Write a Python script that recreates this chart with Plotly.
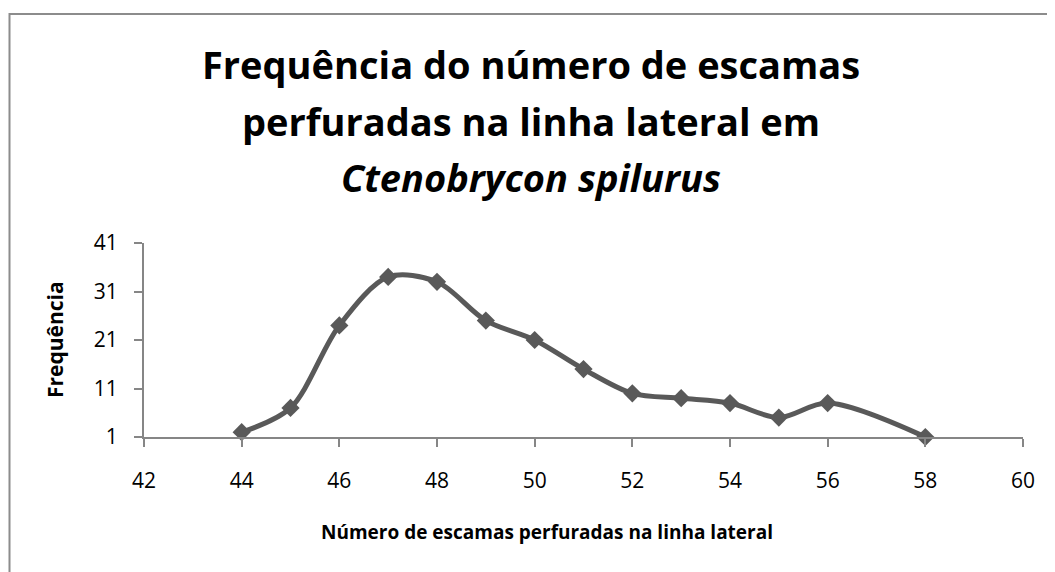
import plotly.graph_objects as go

escamas = [44, 45, 46, 47, 48, 49, 50, 51, 52, 53, 54, 55, 56, 58]
frequencia = [2, 7, 24, 34, 33, 25, 21, 15, 10, 9, 8, 5, 8, 1]
x_ticks = [42, 44, 46, 48, 50, 52, 54, 56, 58, 60]
y_ticks = [1, 11, 21, 31, 41]

title_lines = [
    "<b>Frequência do número de escamas</b>",
    "<b>perfuradas na linha lateral em</b>",
    "<b><i>Ctenobrycon spilurus</i></b>",
]
x_title = "<b>Número de escamas perfuradas na linha lateral</b>"
y_title = "<b>Frequência</b>"

FONT = "Open Sans"
W, H = 1055, 572
OFF = 8  # page body margin
# desired plot area in page pixels
PL, PR, PT, PB = 144, 1023, 243, 437
L = PL - OFF
T = PT - OFF
R = W - (PR - OFF)
B = H - (PB - OFF)
pw, ph = PR - PL, PB - PT

def px_x(p):
    return (p - PL) / pw

def px_y(p):
    return (PB - p) / ph

fig = go.Figure()
fig.add_trace(go.Scatter(
    x=escamas, y=frequencia, mode="lines+markers",
    line=dict(color="#595959", width=5, shape="spline", smoothing=0.9),
    marker=dict(symbol="diamond", size=14, color="#595959"),
    cliponaxis=False, showlegend=False,
))

annotations = []
for txt, py in zip(title_lines, [64, 121, 177]):
    annotations.append(dict(text=txt, x=px_x(531), y=px_y(py), xref="paper", yref="paper",
                            showarrow=False, xanchor="center", yanchor="middle",
                            font=dict(family=FONT, size=38, color="#000000")))
annotations.append(dict(text=x_title, x=px_x(547), y=px_y(532), xref="paper", yref="paper",
                        showarrow=False, xanchor="center", yanchor="middle",
                        font=dict(family=FONT, size=19, color="#000000")))
annotations.append(dict(text=y_title, x=px_x(55), y=px_y(340), xref="paper", yref="paper",
                        showarrow=False, xanchor="center", yanchor="middle", textangle=-90,
                        font=dict(family=FONT, size=21, color="#000000")))

fig.update_layout(
    width=W, height=H,
    margin=dict(l=L, r=R, t=T, b=B),
    paper_bgcolor="white", plot_bgcolor="white",
    annotations=annotations,
    shapes=[dict(type="rect", xref="paper", yref="paper",
                 x0=px_x(9.5), x1=px_x(1080), y0=px_y(14), y1=px_y(600),
                 line=dict(color="#8c8c8c", width=2), fillcolor="rgba(0,0,0,0)", layer="below")],
    xaxis=dict(range=[42, 60], tickvals=x_ticks, ticks="outside", ticklen=8, tickwidth=1.5,
               tickcolor="#868686", showline=True, linecolor="#868686", linewidth=2,
               showgrid=False, zeroline=False, fixedrange=True, ticklabelstandoff=16,
               tickfont=dict(family=FONT, size=21, color="#000000")),
    yaxis=dict(range=[1, 41], tickvals=y_ticks, ticks="outside", ticklen=8, tickwidth=1.5,
               tickcolor="#868686", showline=True, linecolor="#868686", linewidth=2,
               showgrid=False, zeroline=False, fixedrange=True, ticklabelstandoff=12,
               tickfont=dict(family=FONT, size=21, color="#000000")),
)

fig.write_html("out.html")
